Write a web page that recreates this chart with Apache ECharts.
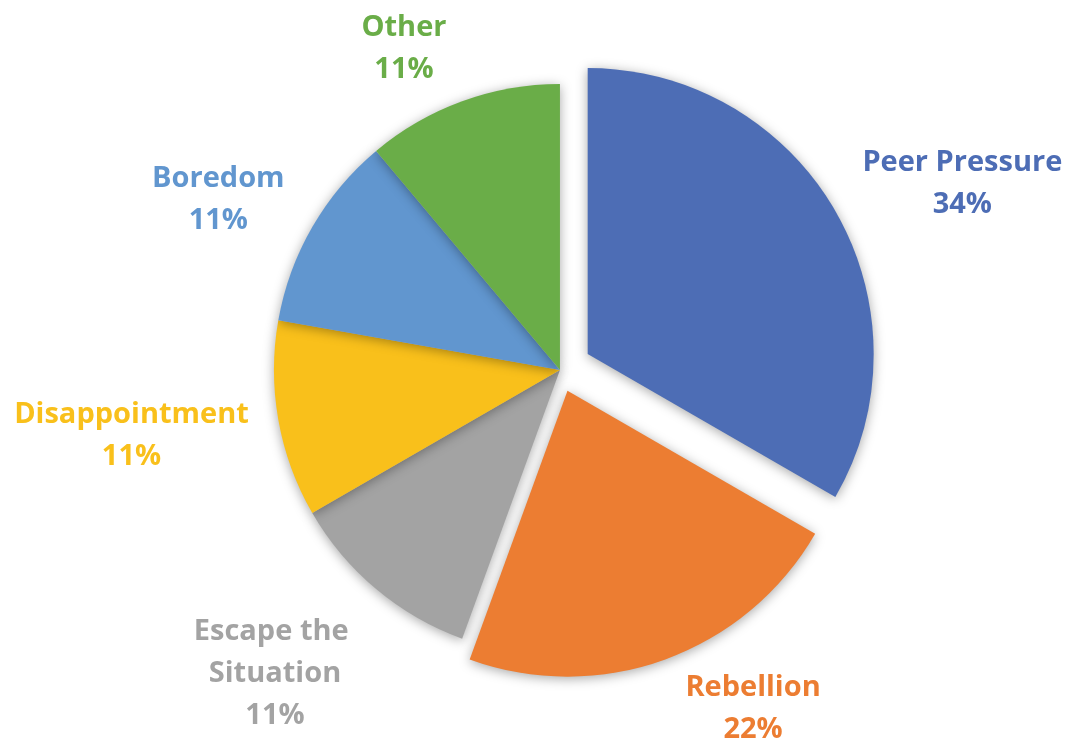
<!DOCTYPE html>
<html><head><meta charset="utf-8">
<script src="https://cdn.jsdelivr.net/npm/echarts@6/dist/echarts.min.js"></script>
<style>html,body{margin:0;padding:0;background:#fff}#c{width:1067px;height:740px}</style>
</head><body><div id="c"></div>
<script>
// ---- data ----
var categories = ['Peer Pressure', 'Rebellion', 'Escape the Situation', 'Disappointment', 'Boredom', 'Other'];
var values = [33.3, 22.2, 11.1, 11.1, 11.1, 11.1];
var pctLabels = ['34%', '22%', '11%', '11%', '11%', '11%'];

// ---- styling ----
var colors = ['#4D6DB5', '#EC7D32', '#A3A3A3', '#F9C01B', '#6196CF', '#6AAD48'];
var labelLen = [60, 49, 106, 76, 60, 59];
var labelLen2 = [75, 71, 33, 72, 42, 38];
var exploded = [32, 22]; // offsets of Peer Pressure and Rebellion

function buildData(visibleIdx) {
  return categories.map(function (name, i) {
    var vis = visibleIdx.indexOf(i) >= 0;
    return {
      name: name,
      value: values[i],
      selected: vis && i < 2,
      itemStyle: vis ? { color: colors[i] } : { color: 'rgba(0,0,0,0)', shadowBlur: 0, shadowColor: 'rgba(0,0,0,0)' },
      label: vis ? { show: true, color: colors[i], width: i === 2 ? 200 : undefined, overflow: i === 2 ? 'break' : 'none' } : { show: false },
      labelLine: { show: false, length: labelLen[i], length2: labelLen2[i] }
    };
  });
}

function makeSeries(visibleIdx, offset) {
  return {
    type: 'pie',
    center: ['52.48%', '50%'],
    radius: 286,
    startAngle: 90,
    clockwise: true,
    avoidLabelOverlap: false,
    selectedMode: 'multiple',
    selectedOffset: offset,
    animation: false,
    silent: true,
    emphasis: { disabled: true },
    select: { disabled: false, itemStyle: {} },
    itemStyle: { shadowBlur: 12, shadowColor: 'rgba(0,0,0,0.35)', shadowOffsetY: 2, borderWidth: 0 },
    label: {
      position: 'outside',
      distanceToLabelLine: 0,
      fontFamily: 'Open Sans',
      fontWeight: 'bold',
      fontSize: 29,
      lineHeight: 42,
      align: 'center',
      formatter: function (p) { return p.name + '\n' + pctLabels[p.dataIndex]; }
    },
    labelLayout: function () { return { align: 'center', verticalAlign: 'middle', dy: 3 }; },
    data: buildData(visibleIdx)
  };
}

var chart = echarts.init(document.getElementById('c'), null, { renderer: 'canvas' });
chart.setOption({
  backgroundColor: '#ffffff',
  animation: false,
  series: [
    makeSeries([0, 2, 3, 4, 5], exploded[0]),
    makeSeries([1], exploded[1])
  ]
});
</script></body></html>
